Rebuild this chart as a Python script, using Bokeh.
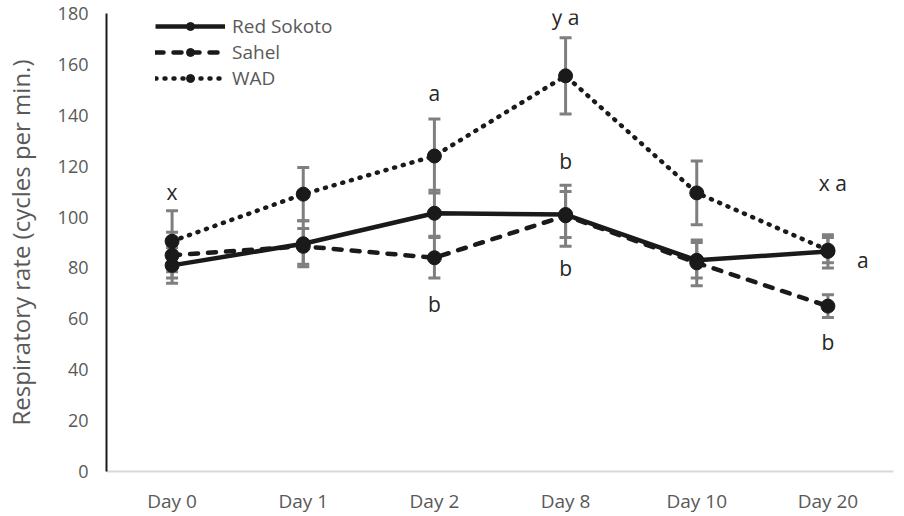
from bokeh.plotting import figure
from bokeh.models import ColumnDataSource, Whisker, TeeHead, Legend, LegendItem
from bokeh.core.properties import value
from bokeh.embed import file_html
from bokeh.resources import INLINE

days = ["Day 0", "Day 1", "Day 2", "Day 8", "Day 10", "Day 20"]
red_sokoto = [81, 89.5, 101.5, 101, 83, 86.5]
red_sokoto_err = [7, 9, 9, 9, 7, 6.5]
sahel = [85, 88.5, 84, 100.5, 82, 65]
sahel_err = [9, 7, 8, 12, 9, 4.5]
wad = [90.5, 109, 124, 155.5, 109.5, 87]
wad_err = [12, 10.5, 14.5, 15, 12.5, 5]

label_text = ["x", "a", "y a", "b", "b", "b", "x a", "a", "b"]
label_day = ["Day 0", "Day 2", "Day 8", "Day 8", "Day 8", "Day 2", "Day 20", "Day 20", "Day 20"]
label_y = [109.7, 148.6, 178.5, 122.2, 79.8, 66, 113.2, 83.3, 50.7]
label_dx = [0, 0, 0, 0, 0, 0, 5, 35, 0]

FONT = "Open Sans"
GREY = "#595959"
BLACK = "#1a1a1a"

p = figure(x_range=days, y_range=(0, 180), frame_width=787, frame_height=458,
           output_backend="svg", toolbar_location=None,
           min_border_left=106, min_border_right=11, min_border_top=13, min_border_bottom=45)
p.outline_line_color = None
p.xgrid.grid_line_color = None
p.ygrid.grid_line_color = None
p.x_range.range_padding = 0

p.yaxis.ticker = [0, 20, 40, 60, 80, 100, 120, 140, 160, 180]
p.yaxis.axis_label = "Respiratory rate (cycles per min.)"
p.yaxis.axis_label_text_font = FONT
p.yaxis.axis_label_text_font_size = "24px"
p.yaxis.axis_label_text_font_style = "normal"
p.yaxis.axis_label_text_color = GREY
p.yaxis.axis_label_standoff = 18
p.yaxis.axis_line_color = BLACK
p.yaxis.axis_line_width = 2
p.xaxis.axis_line_color = "#d9d9d9"
p.xaxis.axis_line_width = 2
for ax in (p.xaxis, p.yaxis):
    ax.major_tick_line_color = None
    ax.minor_tick_line_color = None
    ax.major_tick_out = 0
    ax.major_tick_in = 0
    ax.minor_tick_out = 0
    ax.minor_tick_in = 0
    ax.major_label_text_font = FONT
    ax.major_label_text_color = GREY
p.yaxis.major_label_text_font_size = "18px"
p.xaxis.major_label_text_font_size = "19px"
p.yaxis.major_label_standoff = 18
p.xaxis.major_label_standoff = 16

series = [
    ("Red Sokoto", red_sokoto, red_sokoto_err, "solid"),
    ("Sahel", sahel, sahel_err, "8 10"),
    ("WAD", wad, wad_err, "1 8"),
]

for name, vals, errs, dash in series:
    src = ColumnDataSource(dict(
        x=days, y=vals,
        upper=[v + e for v, e in zip(vals, errs)],
        lower=[v - e for v, e in zip(vals, errs)],
    ))
    w = Whisker(source=src, base="x", upper="upper", lower="lower",
                line_color="#7f7f7f", line_width=3, level="underlay",
                upper_head=TeeHead(size=12, line_color="#7f7f7f", line_width=3),
                lower_head=TeeHead(size=12, line_color="#7f7f7f", line_width=3))
    p.add_layout(w)

items = []
for name, vals, errs, dash in series:
    src = ColumnDataSource(dict(x=days, y=vals))
    lr = p.line("x", "y", source=src, line_color=BLACK, line_width=4.5,
                line_dash=dash, line_cap="round" if dash != "solid" else "butt")
    sr = p.scatter("x", "y", source=src, size=14, fill_color=BLACK, line_color=BLACK)
    items.append(LegendItem(label=name, renderers=[lr, sr]))

lab_src = ColumnDataSource(dict(x=label_day, y=label_y, t=label_text, dx=label_dx))
p.text("x", "y", text="t", source=lab_src, x_offset="dx",
       text_font=value(FONT), text_font_size="21px", text_color="#262626",
       text_align="center", text_baseline="middle")

legend = Legend(items=items, location=(49, 380), orientation="vertical",
                glyph_width=70, glyph_height=20, label_height=20, spacing=0,
                padding=0, margin=0, label_standoff=7,
                label_text_font=FONT, label_text_font_size="19px",
                label_text_color=GREY, background_fill_alpha=0,
                border_line_color=None)
p.add_layout(legend)

open("out.html", "w").write(file_html(p, INLINE))
